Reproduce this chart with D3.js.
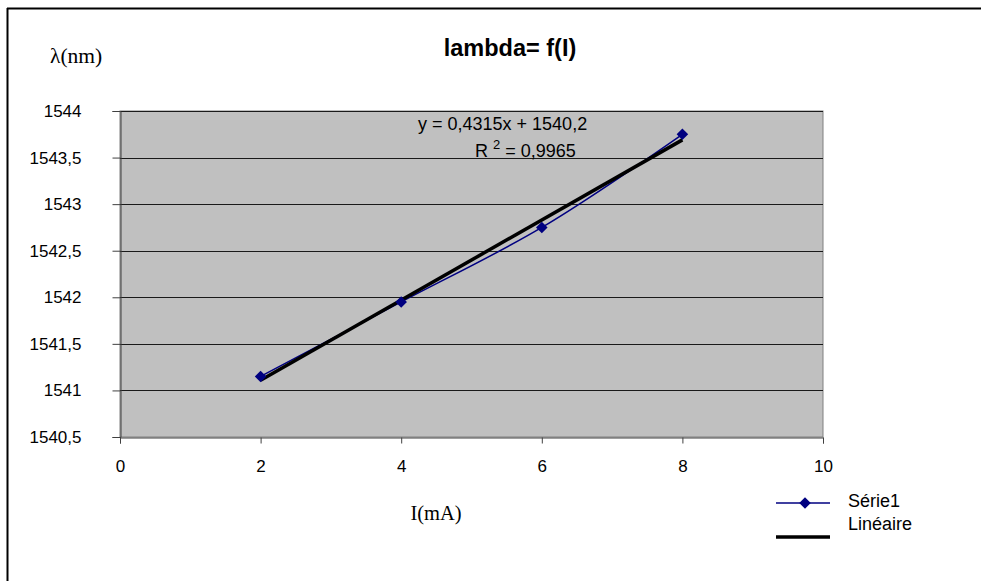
<!DOCTYPE html>
<html><head><meta charset="utf-8">
<script src="https://cdn.jsdelivr.net/npm/d3@7"></script>
<style>body{margin:0;background:#fff}svg{display:block}</style>
</head><body>
<script>
const currentMA = [2, 4, 6, 8];
const lambdaNm = [1541.15, 1541.95, 1542.75, 1543.75];
const xTicks = [0, 2, 4, 6, 8, 10];
const yTicks = [1540.5, 1541, 1541.5, 1542, 1542.5, 1543, 1543.5, 1544];
const seriesName = "Série1";
const trendName = "Linéaire";
const equationText = "y = 0,4315x + 1540,2";
const r2Value = "0,9965";

const W = 981, H = 581;
const svg = d3.select("body").append("svg").attr("width", W).attr("height", H);
const m = {left: 120, right: 823, top: 111, bottom: 437};
const x = d3.scaleLinear().domain([0, 10]).range([m.left, m.right]);
const y = d3.scaleLinear().domain([1540.5, 1544]).range([m.bottom, m.top]);
const fmt = d => String(d).replace(".", ",");
const sans = "Liberation Sans, Arial, sans-serif";
const serif = "Liberation Serif, Times New Roman, serif";

// outer frame (top and left visible)
svg.append("line").attr("x1", 7).attr("x2", W).attr("y1", 8.5).attr("y2", 8.5).attr("stroke", "#000").attr("stroke-width", 2);
svg.append("line").attr("x1", 7.5).attr("x2", 7.5).attr("y1", 8).attr("y2", H).attr("stroke", "#000").attr("stroke-width", 2);

// plot area
svg.append("rect").attr("x", m.left).attr("y", m.top).attr("width", m.right - m.left).attr("height", m.bottom - m.top)
  .attr("fill", "#c0c0c0").attr("stroke", "#808080").attr("stroke-width", 1);

// gridlines
svg.append("g").selectAll("line").data(yTicks.slice(1)).join("line")
  .attr("x1", m.left).attr("x2", m.right)
  .attr("y1", d => Math.round(y(d)) + 0.5).attr("y2", d => Math.round(y(d)) + 0.5)
  .attr("stroke", "#1a1a1a").attr("stroke-width", 1);

// axes
const yAxis = d3.axisLeft(y).tickValues(yTicks).tickFormat(fmt).tickSize(8).tickPadding(31);
const gy = svg.append("g").attr("transform", `translate(${m.left + 0.5},0)`).call(yAxis);
const xAxis = d3.axisBottom(x).tickValues(xTicks).tickFormat(fmt).tickSize(6).tickPadding(16);
const gx = svg.append("g").attr("transform", `translate(0,${m.bottom + 0.5})`).call(xAxis);
[gx, gy].forEach(g => {
  g.select(".domain").attr("stroke", "#404040");
  g.selectAll(".tick line").attr("stroke", "#404040");
  g.selectAll("text").attr("font-family", sans).attr("font-size", 17).attr("fill", "#000");
});

// series (smoothed line)
const pts = currentMA.map((v, i) => [v, lambdaNm[i]]);
svg.append("path").datum(pts)
  .attr("d", d3.line().x(d => x(d[0])).y(d => y(d[1])).curve(d3.curveCatmullRom.alpha(0.5)))
  .attr("fill", "none").attr("stroke", "#000080").attr("stroke-width", 1.5);

// linear trend (least squares)
const mx = d3.mean(currentMA), my = d3.mean(lambdaNm);
const slope = d3.sum(pts, d => (d[0] - mx) * (d[1] - my)) / d3.sum(pts, d => (d[0] - mx) ** 2);
const icpt = my - slope * mx;
const x0 = d3.min(currentMA), x1 = d3.max(currentMA);
svg.append("line")
  .attr("x1", x(x0)).attr("y1", y(icpt + slope * x0))
  .attr("x2", x(x1)).attr("y2", y(icpt + slope * x1))
  .attr("stroke", "#000").attr("stroke-width", 3.5);

// markers
const diamond = d3.symbol().type(d3.symbolDiamond2).size(85);
svg.append("g").selectAll("path").data(pts).join("path")
  .attr("transform", d => `translate(${x(d[0])},${y(d[1])})`)
  .attr("d", diamond).attr("fill", "#000080");

// equation
svg.append("text").attr("x", 418).attr("y", 130).attr("font-family", sans).attr("font-size", 18).text(equationText);
const r2 = svg.append("text").attr("x", 475).attr("y", 157).attr("font-family", sans).attr("font-size", 18);
r2.append("tspan").text("R ");
r2.append("tspan").attr("dy", -8).attr("font-size", 13).text("2");
r2.append("tspan").attr("dy", 8).text(" = " + r2Value);

// title and axis labels
svg.append("text").attr("x", 510).attr("y", 56).attr("text-anchor", "middle").attr("font-family", sans)
  .attr("font-weight", "bold").attr("font-size", 23.5).text("lambda= f(I)");
svg.append("text").attr("x", 50).attr("y", 63).attr("font-family", serif)
  .attr("font-size", 21.5).text("λ(nm)");
svg.append("text").attr("x", 436).attr("y", 520).attr("text-anchor", "middle").attr("font-family", serif)
  .attr("font-size", 20.5).text("I(mA)");

// legend
const lg = svg.append("g");
lg.append("line").attr("x1", 776).attr("x2", 830).attr("y1", 503).attr("y2", 503).attr("stroke", "#000080").attr("stroke-width", 1.5);
lg.append("path").attr("transform", "translate(805,503)").attr("d", diamond).attr("fill", "#000080");
lg.append("text").attr("x", 848).attr("y", 507).attr("font-family", sans).attr("font-size", 18).text(seriesName);
lg.append("text").attr("x", 848).attr("y", 530).attr("font-family", sans).attr("font-size", 18).text(trendName);
lg.append("line").attr("x1", 776).attr("x2", 830).attr("y1", 537).attr("y2", 537).attr("stroke", "#000").attr("stroke-width", 3.5);
</script>
</body></html>
